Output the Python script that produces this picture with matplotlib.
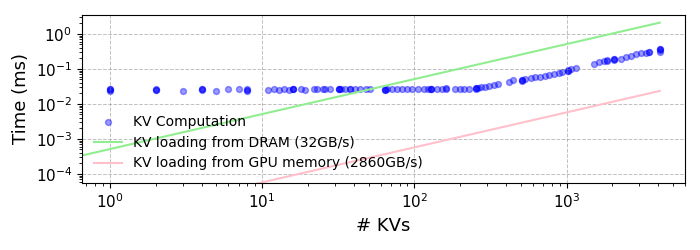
import numpy as np
import matplotlib
matplotlib.use("Agg")
import matplotlib.pyplot as plt

# measured KV computation time (ms) vs number of KVs
kv_counts = [1, 1, 1, 1, 2, 2, 2, 3, 4, 4, 4, 5, 6, 7, 8, 8, 8, 11, 12, 13, 14, 15, 16, 16, 16,
             18, 19, 22, 23, 25, 26, 28, 32, 32, 32, 33, 35, 38, 38, 41, 44, 48, 51,
             64, 64, 64, 66, 71, 77, 83, 89, 97, 105, 115, 123, 128, 128, 128, 141, 151, 162, 162,
             186, 198, 211, 228, 256, 256, 256, 262, 276, 293, 311, 333, 355, 417, 443,
             512, 512, 512, 537, 580, 625, 667, 720, 765, 826, 891, 938, 1024, 1024, 1024, 1075, 1146,
             1514, 1633, 1762, 1854, 1854, 2048, 2048, 2048, 2266, 2443, 2636, 2844, 3069, 3311,
             3483, 3483, 4096, 4096, 4096, 4096]
comp_time_ms = [0.024, 0.026, 0.027, 0.025, 0.025, 0.026, 0.025, 0.024, 0.025, 0.027, 0.026, 0.024, 0.027,
                0.026, 0.025, 0.026, 0.024,
                0.025, 0.026, 0.025, 0.026, 0.025, 0.026, 0.027, 0.026,
                0.026, 0.025, 0.026, 0.026, 0.027, 0.026, 0.026, 0.027, 0.026, 0.026, 0.026, 0.027, 0.026, 0.027,
                0.026, 0.027, 0.026, 0.026,
                0.025, 0.026, 0.025, 0.026, 0.027, 0.026, 0.026, 0.027, 0.026, 0.026, 0.026, 0.027, 0.026, 0.027,
                0.026, 0.027, 0.027, 0.028, 0.027,
                0.027, 0.027, 0.027, 0.027, 0.028, 0.027, 0.028, 0.0286, 0.030, 0.031, 0.033, 0.034, 0.037, 0.043, 0.047,
                0.048, 0.046, 0.047, 0.052, 0.054, 0.057, 0.059, 0.063, 0.068, 0.072, 0.077, 0.082, 0.092, 0.089, 0.090,
                0.098, 0.105,
                0.136, 0.155, 0.169, 0.177, 0.170, 0.189, 0.185, 0.187, 0.193, 0.216, 0.240, 0.268, 0.292, 0.292,
                0.312, 0.300, 0.373, 0.350, 0.300, 0.360]

# KV loading lines: bytes per KV and bandwidths
kv_bytes = 16384
dram_bw = 32e9
gpu_bw = 2860e9
line_kvs = [0.6, 4096]

fig, ax = plt.subplots(figsize=(7, 2.5), dpi=100)
fig.subplots_adjust(left=0.117, right=0.979, top=0.94, bottom=0.268)

ax.scatter(kv_counts, comp_time_ms, s=18, color="blue", alpha=0.4, label="KV Computation")
dram_ms = [n * kv_bytes / dram_bw * 1e3 for n in line_kvs]
gpu_ms = [n * kv_bytes / gpu_bw * 1e3 for n in line_kvs]
ax.plot(line_kvs, dram_ms, color="lightgreen", lw=1.5, label="KV loading from DRAM (32GB/s)")
ax.plot(line_kvs, gpu_ms, color="pink", lw=1.5, label="KV loading from GPU memory (2860GB/s)")

ax.set_xscale("log")
ax.set_yscale("log")
ax.set_xlim(10 ** -0.184, 10 ** 3.78)
ax.set_ylim(10 ** -4.26, 10 ** 0.54)
ax.grid(True, which="major", linestyle="--", color="gray", alpha=0.5, lw=0.7)
ax.tick_params(labelsize=11)
ax.set_xlabel("# KVs", fontsize=13)
ax.set_ylabel("Time (ms)", fontsize=13)
ax.legend(loc="lower left", frameon=False, fontsize=10)

fig.savefig("out.png")
